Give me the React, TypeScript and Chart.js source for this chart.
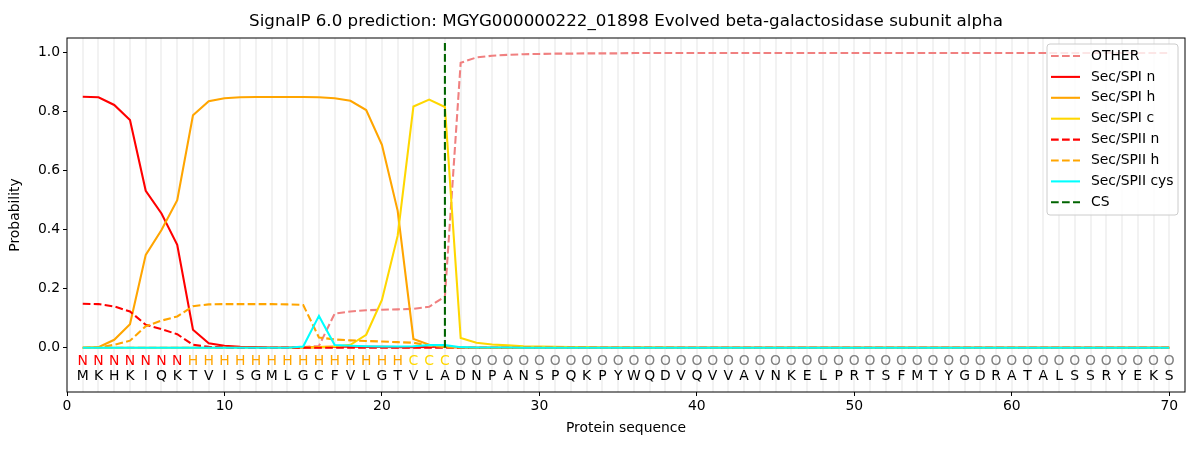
import { useEffect, useRef } from "react";
import { Chart, registerables } from "chart.js";

Chart.register(...registerables);

const FONT = "'DejaVu Sans', sans-serif";

const sequence = "MKHKIQKTVISGMLGCFVLGTVLADNPANSPQKPYWQDVQVVAVNKELPRTSFMTYGDRATALSSRYEKS".split("");
const regions = "NNNNNNNHHHHHHHHHHHHHHCCCOOOOOOOOOOOOOOOOOOOOOOOOOOOOOOOOOOOOOOOOOOOOOO".split("");

const other = [
	0, 0, 0, 0, 0, 0, 0, 0, 0, 0,
	0, 0, 0, 0.001, 0.002, 0.006, 0.116, 0.123, 0.127, 0.129,
	0.13, 0.132, 0.139, 0.174, 0.966, 0.984, 0.99, 0.993, 0.995, 0.996,
	0.997, 0.997, 0.998, 0.998, 0.998, 0.999, 0.999, 0.999, 0.999, 0.999,
	0.999, 0.999, 0.999, 0.999, 0.999, 0.999, 0.999, 0.999, 0.999, 0.999,
	0.999, 0.999, 0.999, 0.999, 0.999, 0.999, 0.999, 0.999, 0.999, 0.999,
	0.999, 0.999, 0.999, 0.999, 0.999, 0.999, 0.999, 0.999, 0.999, 0.999,
];
const spiN = [
	0.851, 0.849, 0.823, 0.772, 0.532, 0.455, 0.349, 0.061, 0.015, 0.007,
	0.003, 0.002, 0.001, 0.001, 0.001, 0.002, 0.003, 0.004, 0.003, 0.003,
	0.002, 0.002, 0.003, 0.004, 0.001, 0, 0, 0, 0, 0,
	0, 0, 0, 0, 0, 0, 0, 0, 0, 0,
	0, 0, 0, 0, 0, 0, 0, 0, 0, 0,
	0, 0, 0, 0, 0, 0, 0, 0, 0, 0,
	0, 0, 0, 0, 0, 0, 0, 0, 0, 0,
];
const spiH = [
	0, 0.002, 0.027, 0.08, 0.315, 0.399, 0.5, 0.788, 0.836, 0.846,
	0.849, 0.85, 0.85, 0.85, 0.85, 0.849, 0.846, 0.837, 0.806, 0.688,
	0.464, 0.03, 0.01, 0.003, 0.001, 0, 0, 0, 0, 0,
	0, 0, 0, 0, 0, 0, 0, 0, 0, 0,
	0, 0, 0, 0, 0, 0, 0, 0, 0, 0,
	0, 0, 0, 0, 0, 0, 0, 0, 0, 0,
	0, 0, 0, 0, 0, 0, 0, 0, 0, 0,
];
const spiC = [
	0, 0, 0, 0, 0, 0, 0, 0, 0, 0,
	0, 0, 0, 0, 0.001, 0.002, 0.004, 0.01, 0.044, 0.162,
	0.38, 0.818, 0.841, 0.816, 0.033, 0.017, 0.011, 0.008, 0.005, 0.004,
	0.003, 0.002, 0.002, 0.001, 0.001, 0.001, 0.001, 0.001, 0, 0,
	0, 0, 0, 0, 0, 0, 0, 0, 0, 0,
	0, 0, 0, 0, 0, 0, 0, 0, 0, 0,
	0, 0, 0, 0, 0, 0, 0, 0, 0, 0,
];
const spiiN = [
	0.149, 0.148, 0.14, 0.123, 0.078, 0.063, 0.046, 0.01, 0.003, 0.001,
	0, 0, 0, 0, 0, 0, 0, 0, 0, 0,
	0, 0, 0, 0, 0, 0, 0, 0, 0, 0,
	0, 0, 0, 0, 0, 0, 0, 0, 0, 0,
	0, 0, 0, 0, 0, 0, 0, 0, 0, 0,
	0, 0, 0, 0, 0, 0, 0, 0, 0, 0,
	0, 0, 0, 0, 0, 0, 0, 0, 0, 0,
];
const spiiH = [
	0, 0.001, 0.01, 0.024, 0.073, 0.092, 0.106, 0.141, 0.147, 0.148,
	0.148, 0.148, 0.148, 0.147, 0.145, 0.035, 0.028, 0.025, 0.023, 0.021,
	0.019, 0.017, 0.007, 0.002, 0.001, 0, 0, 0, 0, 0,
	0, 0, 0, 0, 0, 0, 0, 0, 0, 0,
	0, 0, 0, 0, 0, 0, 0, 0, 0, 0,
	0, 0, 0, 0, 0, 0, 0, 0, 0, 0,
	0, 0, 0, 0, 0, 0, 0, 0, 0, 0,
];
const spiiCys = [
	0, 0, 0, 0, 0, 0, 0, 0, 0, 0,
	0, 0, 0, 0, 0.004, 0.108, 0.009, 0.007, 0.005, 0.004,
	0.004, 0.005, 0.009, 0.009, 0.002, 0.001, 0.001, 0.001, 0, 0,
	0, 0, 0, 0, 0, 0, 0, 0, 0, 0,
	0, 0, 0, 0, 0, 0, 0, 0, 0, 0,
	0, 0, 0, 0, 0, 0, 0, 0, 0, 0,
	0, 0, 0, 0, 0, 0, 0, 0, 0, 0,
];
const csPos = 24;
const csSpan = [0, 1.035];

const xTicks = [0, 10, 20, 30, 40, 50, 60, 70];
const yTicks = [0, 0.2, 0.4, 0.6, 0.8, 1.0];

const regionColors: Record<string, string> = {
	N: "#ff0000",
	H: "#ffa500",
	C: "#ffd700",
	O: "#808080",
};

const LW = 2.08;
const DASH = [7.7, 3.3];

const series = [
	{ label: "OTHER", data: other, color: "#f08080", dash: DASH },
	{ label: "Sec/SPI n", data: spiN, color: "#ff0000", dash: [] },
	{ label: "Sec/SPI h", data: spiH, color: "#ffa500", dash: [] },
	{ label: "Sec/SPI c", data: spiC, color: "#ffd700", dash: [] },
	{ label: "Sec/SPII n", data: spiiN, color: "#ff0000", dash: DASH },
	{ label: "Sec/SPII h", data: spiiH, color: "#ffa500", dash: DASH },
	{ label: "Sec/SPII cys", data: spiiCys, color: "#00ffff", dash: [] },
];

const decorations = {
	id: "decorations",
	beforeDatasetsDraw(chart) {
		const { ctx, chartArea, scales } = chart;
		ctx.save();
		ctx.strokeStyle = "#f2f2f2";
		ctx.lineWidth = 2;
		for (let i = 1; i <= sequence.length; i++) {
			const px = Math.round(scales.x.getPixelForValue(i));
			ctx.beginPath();
			ctx.moveTo(px, chartArea.top);
			ctx.lineTo(px, chartArea.bottom);
			ctx.stroke();
		}
		ctx.restore();
	},
	afterDatasetsDraw(chart) {
		const { ctx, chartArea, scales } = chart;
		ctx.save();
		ctx.font = `13.9px ${FONT}`;
		ctx.textAlign = "center";
		ctx.textBaseline = "middle";
		sequence.forEach((aa, i) => {
			const px = scales.x.getPixelForValue(i + 1);
			ctx.fillStyle = regionColors[regions[i]];
			ctx.fillText(regions[i], px, scales.y.getPixelForValue(-0.047));
			ctx.fillStyle = "#000";
			ctx.fillText(aa, px, scales.y.getPixelForValue(-0.097));
		});

		// frame
		ctx.strokeStyle = "#000";
		ctx.lineWidth = 1;
		ctx.strokeRect(chartArea.left, chartArea.top, chartArea.right - chartArea.left, chartArea.bottom - chartArea.top);

		// title
		ctx.font = `16.7px ${FONT}`;
		ctx.fillStyle = "#000";
		ctx.fillText(
			"SignalP 6.0 prediction: MGYG000000222_01898 Evolved beta-galactosidase subunit alpha",
			(chartArea.left + chartArea.right) / 2,
			22
		);

		// legend
		const lx = chartArea.right - 138;
		const ly = chartArea.top + 6;
		const w = 131;
		const h = 171;
		ctx.fillStyle = "rgba(255,255,255,0.8)";
		ctx.strokeStyle = "#cccccc";
		ctx.lineWidth = 1;
		ctx.beginPath();
		ctx.roundRect(lx, ly, w, h, 3);
		ctx.fill();
		ctx.stroke();
		const items = [
			...series.map((s) => ({ label: s.label, color: s.color, dash: s.dash })),
			{ label: "CS", color: "#006400", dash: DASH },
		];
		ctx.font = `13.9px ${FONT}`;
		ctx.textAlign = "left";
		items.forEach((it, i) => {
			const y = ly + 12 + i * 20.9;
			ctx.strokeStyle = it.color;
			ctx.lineWidth = LW;
			ctx.setLineDash(it.dash);
			ctx.beginPath();
			ctx.moveTo(lx + 4, y);
			ctx.lineTo(lx + 33, y);
			ctx.stroke();
			ctx.setLineDash([]);
			ctx.fillStyle = "#000";
			ctx.fillText(it.label, lx + 44, y);
		});
		ctx.restore();
	},
};

const App = () => {
	const chartRef = useRef<HTMLCanvasElement | null>(null);

	useEffect(() => {
		document.body.style.margin = "0";
		const datasets: any[] = series.map((s, i) => ({
			label: s.label,
			data: s.data.map((v, j) => ({ x: j + 1, y: v })),
			borderColor: s.color,
			backgroundColor: s.color,
			borderDash: s.dash,
			borderWidth: LW,
			pointRadius: 0,
			fill: false,
			tension: 0,
			order: 10 - i,
		}));
		datasets.push({
			label: "CS",
			data: csSpan.map((v) => ({ x: csPos, y: v })),
			borderColor: "#006400",
			borderDash: DASH,
			borderWidth: LW,
			pointRadius: 0,
			fill: false,
			order: 0,
		});

		const tickFont = { family: FONT, size: 13.9 };
		const myChart = new Chart(chartRef.current.getContext("2d"), {
			type: "line",
			data: { datasets },
			plugins: [decorations],
			options: {
				animation: false,
				responsive: false,
				layout: { padding: { top: 38, right: 15, bottom: 10, left: 0 } },
				plugins: {
					legend: { display: false },
					title: { display: false },
					tooltip: { enabled: false },
				},
				scales: {
					x: {
						type: "linear",
						min: 0,
						max: 71,
						afterBuildTicks: (scale) => {
							scale.ticks = xTicks.map((v) => ({ value: v }));
						},
						afterFit: (scale) => {
							scale.height = 48;
						},
						grid: { drawOnChartArea: false, drawTicks: true, tickLength: 4, color: "#000" },
						border: { display: false },
						ticks: { color: "#000", font: tickFont, padding: 2, maxRotation: 0 },
						title: {
							display: true,
							text: "Protein sequence",
							color: "#000",
							font: tickFont,
							padding: { top: 0, bottom: 3 },
						},
					},
					y: {
						type: "linear",
						min: -0.15,
						max: 1.05,
						afterBuildTicks: (scale) => {
							scale.ticks = yTicks.map((v) => ({ value: v }));
						},
						afterFit: (scale) => {
							scale.width = 67;
						},
						grid: { drawOnChartArea: false, drawTicks: true, tickLength: 4, color: "#000" },
						border: { display: false },
						ticks: {
							color: "#000",
							font: tickFont,
							padding: 3,
							callback: (v) => Number(v).toFixed(1),
						},
						title: {
							display: true,
							text: "Probability",
							color: "#000",
							font: tickFont,
							padding: { top: 7, bottom: 0 },
						},
					},
				},
			},
		});

		return () => {
			myChart.destroy();
		};
	}, []);

	return (
		<div style={{ width: 1200, height: 450 }}>
			<canvas ref={chartRef} width={1200} height={450} style={{ width: 1200, height: 450 }} />
		</div>
	);
};

export default App;
